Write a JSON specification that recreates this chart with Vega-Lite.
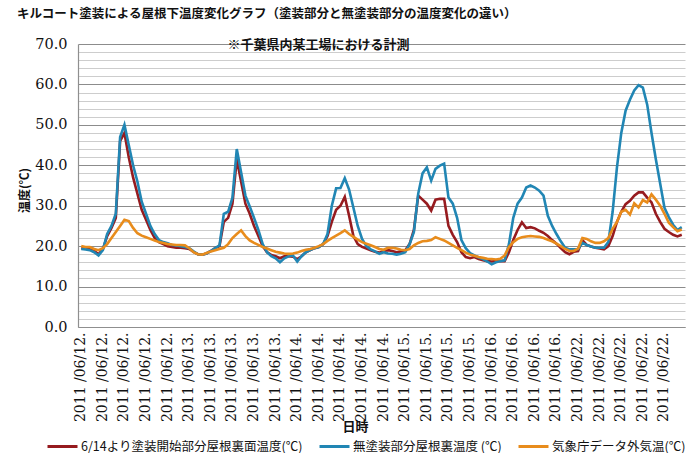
{
"$schema": "https://vega.github.io/schema/vega-lite/v6.json",
"width": 607, "height": 283,
"autosize": {"type": "none"},
"padding": {"left": 78, "top": 44, "right": 4, "bottom": 126},
"background": "white",
"title": {"text": "キルコート塗装による屋根下温度変化グラフ（塗装部分と無塗装部分の温度変化の違い）", "anchor": "start", "frame": "group", "dx": -61, "offset": 16, "font": "Noto Sans CJK JP", "fontSize": 12.5, "fontWeight": "bold", "color": "#111111"},
"data": {"values": [
{"t":"2011/06/12 01:00","r":19.5,"b":19.3,"o":20.0},
{"t":"2011/06/12 02:00","r":19.4,"b":19.2,"o":19.8},
{"t":"2011/06/12 03:00","r":19.2,"b":19.0,"o":19.8},
{"t":"2011/06/12 04:00","r":18.8,"b":18.5,"o":19.3},
{"t":"2011/06/12 05:00","r":18.0,"b":17.7,"o":19.0},
{"t":"2011/06/12 06:00","r":19.2,"b":19.0,"o":19.5},
{"t":"2011/06/12 07:00","r":22.5,"b":23.0,"o":20.5},
{"t":"2011/06/12 08:00","r":24.5,"b":25.0,"o":22.0},
{"t":"2011/06/12 09:00","r":27.0,"b":28.0,"o":23.5},
{"t":"2011/06/12 10:00","r":46.0,"b":47.0,"o":25.0},
{"t":"2011/06/12 11:00","r":48.0,"b":50.0,"o":26.5},
{"t":"2011/06/12 12:00","r":42.0,"b":45.0,"o":26.2},
{"t":"2011/06/12 13:00","r":37.0,"b":40.0,"o":24.5},
{"t":"2011/06/12 14:00","r":33.0,"b":36.0,"o":23.2},
{"t":"2011/06/12 15:00","r":29.0,"b":31.0,"o":22.6},
{"t":"2011/06/12 16:00","r":26.5,"b":28.0,"o":22.2},
{"t":"2011/06/12 17:00","r":24.0,"b":25.0,"o":21.8},
{"t":"2011/06/12 18:00","r":22.0,"b":23.0,"o":21.4},
{"t":"2011/06/12 19:00","r":21.0,"b":21.5,"o":21.0},
{"t":"2011/06/12 20:00","r":20.5,"b":21.0,"o":20.8},
{"t":"2011/06/12 21:00","r":20.0,"b":20.7,"o":20.5},
{"t":"2011/06/12 22:00","r":19.8,"b":20.3,"o":20.4},
{"t":"2011/06/12 23:00","r":19.6,"b":20.2,"o":20.3},
{"t":"2011/06/13 00:00","r":19.6,"b":20.0,"o":20.3},
{"t":"2011/06/13 01:00","r":19.5,"b":19.8,"o":20.2},
{"t":"2011/06/13 02:00","r":19.3,"b":19.5,"o":19.5},
{"t":"2011/06/13 03:00","r":18.6,"b":18.7,"o":18.5},
{"t":"2011/06/13 04:00","r":18.0,"b":18.0,"o":18.0},
{"t":"2011/06/13 05:00","r":17.9,"b":17.9,"o":17.9},
{"t":"2011/06/13 06:00","r":18.2,"b":18.2,"o":18.3},
{"t":"2011/06/13 07:00","r":18.8,"b":18.8,"o":18.7},
{"t":"2011/06/13 08:00","r":19.5,"b":19.5,"o":19.0},
{"t":"2011/06/13 09:00","r":20.0,"b":20.2,"o":19.3},
{"t":"2011/06/13 10:00","r":26.0,"b":28.0,"o":19.6},
{"t":"2011/06/13 11:00","r":27.0,"b":28.5,"o":20.5},
{"t":"2011/06/13 12:00","r":30.5,"b":32.0,"o":22.0},
{"t":"2011/06/13 13:00","r":41.5,"b":44.0,"o":23.0},
{"t":"2011/06/13 14:00","r":36.0,"b":38.3,"o":23.9},
{"t":"2011/06/13 15:00","r":30.5,"b":32.5,"o":22.5},
{"t":"2011/06/13 16:00","r":28.0,"b":29.8,"o":21.4},
{"t":"2011/06/13 17:00","r":25.0,"b":27.0,"o":20.8},
{"t":"2011/06/13 18:00","r":22.5,"b":24.0,"o":20.3},
{"t":"2011/06/13 19:00","r":20.0,"b":20.5,"o":19.8},
{"t":"2011/06/13 20:00","r":18.5,"b":18.5,"o":19.4},
{"t":"2011/06/13 21:00","r":17.8,"b":17.5,"o":19.0},
{"t":"2011/06/13 22:00","r":17.5,"b":17.0,"o":18.6},
{"t":"2011/06/13 23:00","r":17.0,"b":16.0,"o":18.4},
{"t":"2011/06/14 00:00","r":17.5,"b":17.0,"o":18.2},
{"t":"2011/06/14 01:00","r":17.5,"b":17.5,"o":18.1},
{"t":"2011/06/14 02:00","r":17.4,"b":17.7,"o":18.2},
{"t":"2011/06/14 03:00","r":16.8,"b":16.2,"o":18.4},
{"t":"2011/06/14 04:00","r":17.5,"b":17.5,"o":18.8},
{"t":"2011/06/14 05:00","r":18.5,"b":18.5,"o":19.1},
{"t":"2011/06/14 06:00","r":19.0,"b":19.0,"o":19.3},
{"t":"2011/06/14 07:00","r":19.5,"b":19.5,"o":19.6},
{"t":"2011/06/14 08:00","r":19.8,"b":19.8,"o":20.0},
{"t":"2011/06/14 09:00","r":20.5,"b":20.5,"o":20.5},
{"t":"2011/06/14 10:00","r":22.5,"b":23.0,"o":21.3},
{"t":"2011/06/14 11:00","r":26.0,"b":30.0,"o":22.0},
{"t":"2011/06/14 12:00","r":29.0,"b":34.3,"o":22.6},
{"t":"2011/06/14 13:00","r":30.0,"b":34.4,"o":23.2},
{"t":"2011/06/14 14:00","r":32.2,"b":36.8,"o":23.9},
{"t":"2011/06/14 15:00","r":27.5,"b":34.0,"o":23.0},
{"t":"2011/06/14 16:00","r":22.5,"b":29.5,"o":22.3},
{"t":"2011/06/14 17:00","r":20.5,"b":25.0,"o":21.6},
{"t":"2011/06/14 18:00","r":19.8,"b":21.8,"o":21.0},
{"t":"2011/06/14 19:00","r":19.4,"b":20.0,"o":20.6},
{"t":"2011/06/14 20:00","r":19.0,"b":19.2,"o":20.2},
{"t":"2011/06/14 21:00","r":18.6,"b":18.7,"o":19.8},
{"t":"2011/06/14 22:00","r":18.4,"b":18.1,"o":19.3},
{"t":"2011/06/14 23:00","r":18.8,"b":18.5,"o":19.1},
{"t":"2011/06/15 00:00","r":19.0,"b":18.2,"o":19.6},
{"t":"2011/06/15 01:00","r":18.8,"b":18.1,"o":19.6},
{"t":"2011/06/15 02:00","r":18.5,"b":17.9,"o":19.4},
{"t":"2011/06/15 03:00","r":18.7,"b":18.1,"o":19.1},
{"t":"2011/06/15 04:00","r":19.0,"b":18.5,"o":19.0},
{"t":"2011/06/15 05:00","r":20.5,"b":20.5,"o":19.3},
{"t":"2011/06/15 06:00","r":24.0,"b":23.5,"o":20.2},
{"t":"2011/06/15 07:00","r":32.5,"b":33.0,"o":20.8},
{"t":"2011/06/15 08:00","r":31.5,"b":38.0,"o":21.2},
{"t":"2011/06/15 09:00","r":30.5,"b":39.5,"o":21.3},
{"t":"2011/06/15 10:00","r":28.8,"b":36.2,"o":21.5},
{"t":"2011/06/15 11:00","r":31.5,"b":39.1,"o":22.2},
{"t":"2011/06/15 12:00","r":31.7,"b":39.9,"o":21.8},
{"t":"2011/06/15 13:00","r":31.7,"b":40.4,"o":21.4},
{"t":"2011/06/15 14:00","r":25.0,"b":32.0,"o":20.8},
{"t":"2011/06/15 15:00","r":22.8,"b":30.5,"o":20.2},
{"t":"2011/06/15 16:00","r":21.0,"b":27.0,"o":19.6},
{"t":"2011/06/15 17:00","r":18.5,"b":21.5,"o":19.0},
{"t":"2011/06/15 18:00","r":17.3,"b":19.5,"o":18.4},
{"t":"2011/06/15 19:00","r":17.0,"b":18.3,"o":17.9},
{"t":"2011/06/15 20:00","r":17.3,"b":17.7,"o":17.6},
{"t":"2011/06/15 21:00","r":16.8,"b":17.2,"o":17.3},
{"t":"2011/06/15 22:00","r":16.5,"b":16.8,"o":17.1},
{"t":"2011/06/15 23:00","r":16.3,"b":16.2,"o":16.9},
{"t":"2011/06/16 00:00","r":16.2,"b":15.5,"o":16.8},
{"t":"2011/06/16 01:00","r":16.3,"b":16.0,"o":16.7},
{"t":"2011/06/16 02:00","r":16.3,"b":16.3,"o":16.9},
{"t":"2011/06/16 03:00","r":16.3,"b":16.5,"o":17.7},
{"t":"2011/06/16 04:00","r":18.5,"b":20.5,"o":19.8},
{"t":"2011/06/16 05:00","r":21.5,"b":27.0,"o":21.0},
{"t":"2011/06/16 06:00","r":24.0,"b":30.5,"o":21.8},
{"t":"2011/06/16 07:00","r":25.9,"b":32.0,"o":22.2},
{"t":"2011/06/16 08:00","r":24.5,"b":34.5,"o":22.4},
{"t":"2011/06/16 09:00","r":24.7,"b":35.0,"o":22.5},
{"t":"2011/06/16 10:00","r":24.4,"b":34.5,"o":22.4},
{"t":"2011/06/16 11:00","r":23.8,"b":33.7,"o":22.3},
{"t":"2011/06/16 12:00","r":23.3,"b":32.5,"o":22.0},
{"t":"2011/06/16 13:00","r":22.5,"b":27.5,"o":21.6},
{"t":"2011/06/16 14:00","r":21.5,"b":25.0,"o":21.2},
{"t":"2011/06/16 15:00","r":20.6,"b":23.0,"o":20.6},
{"t":"2011/06/16 16:00","r":19.5,"b":21.2,"o":20.0},
{"t":"2011/06/16 17:00","r":18.5,"b":19.6,"o":19.3},
{"t":"2011/06/16 18:00","r":18.0,"b":19.2,"o":18.8},
{"t":"2011/06/22 00:00","r":18.6,"b":19.2,"o":18.8},
{"t":"2011/06/22 01:00","r":18.8,"b":19.3,"o":19.4},
{"t":"2011/06/22 02:00","r":21.5,"b":20.8,"o":22.0},
{"t":"2011/06/22 03:00","r":20.3,"b":20.3,"o":21.8},
{"t":"2011/06/22 04:00","r":19.9,"b":19.9,"o":21.2},
{"t":"2011/06/22 05:00","r":19.6,"b":19.6,"o":20.8},
{"t":"2011/06/22 06:00","r":19.4,"b":19.6,"o":20.8},
{"t":"2011/06/22 07:00","r":19.2,"b":19.6,"o":21.2},
{"t":"2011/06/22 08:00","r":20.0,"b":21.0,"o":22.0},
{"t":"2011/06/22 09:00","r":22.5,"b":28.5,"o":24.3},
{"t":"2011/06/22 10:00","r":26.0,"b":39.5,"o":26.0},
{"t":"2011/06/22 11:00","r":28.5,"b":48.0,"o":28.5},
{"t":"2011/06/22 12:00","r":30.4,"b":53.5,"o":29.0},
{"t":"2011/06/22 13:00","r":31.2,"b":56.2,"o":27.8},
{"t":"2011/06/22 14:00","r":32.5,"b":58.5,"o":30.6},
{"t":"2011/06/22 15:00","r":33.3,"b":59.8,"o":29.6},
{"t":"2011/06/22 16:00","r":33.3,"b":59.2,"o":31.4},
{"t":"2011/06/22 17:00","r":32.0,"b":55.0,"o":30.8},
{"t":"2011/06/22 18:00","r":30.8,"b":48.0,"o":32.8},
{"t":"2011/06/22 19:00","r":28.0,"b":41.5,"o":31.5},
{"t":"2011/06/22 20:00","r":26.0,"b":35.5,"o":30.0},
{"t":"2011/06/22 21:00","r":24.3,"b":29.5,"o":28.0},
{"t":"2011/06/22 22:00","r":23.5,"b":27.2,"o":25.8},
{"t":"2011/06/22 23:00","r":22.8,"b":25.3,"o":24.7},
{"t":"2011/06/23 00:00","r":22.4,"b":24.0,"o":23.7},
{"t":"2011/06/23 01:00","r":22.8,"b":24.7,"o":24.1}
]},
"transform": [{"fold": ["r", "b", "o"], "as": ["s", "v"]}],
"layer": [
{"mark": {"type": "line", "strokeWidth": 2.6},
 "encoding": {
  "x": {"field": "t", "type": "ordinal", "scale": {"padding": 0.5},
   "axis": {"orient": "bottom",
    "values": ["2011/06/12 01:00","2011/06/12 06:00","2011/06/12 11:00","2011/06/12 16:00","2011/06/12 21:00","2011/06/13 02:00","2011/06/13 07:00","2011/06/13 12:00","2011/06/13 17:00","2011/06/13 22:00","2011/06/14 03:00","2011/06/14 08:00","2011/06/14 13:00","2011/06/14 18:00","2011/06/14 23:00","2011/06/15 04:00","2011/06/15 09:00","2011/06/15 14:00","2011/06/15 19:00","2011/06/16 00:00","2011/06/16 05:00","2011/06/16 10:00","2011/06/16 15:00","2011/06/22 01:00","2011/06/22 06:00","2011/06/22 11:00","2011/06/22 16:00","2011/06/22 21:00"],
    "labelExpr": "slice(datum.label, 0, 4) + ' ' + slice(datum.label, 4, 10) + '.'",
    "labelAngle": -90, "labelFont": "DejaVu Serif", "labelFontSize": 14, "labelColor": "#111111",
    "labelPadding": 5, "labelOverlap": false, "ticks": false, "grid": false,
    "domainColor": "#8f8f8f", "domainWidth": 1.2,
    "title": "日時", "titleFont": "Noto Sans CJK JP", "titleFontSize": 13, "titleFontWeight": "bold", "titleColor": "#111111",
    "titleX": 277, "titleY": 99, "titleBaseline": "middle", "titleAlign": "center"}},
  "y": {"field": "v", "type": "quantitative", "scale": {"domain": [0, 70], "nice": false},
   "axis": {"values": [0,2,4,6,8,10,12,14,16,18,20,22,24,26,28,30,32,34,36,38,40,42,44,46,48,50,52,54,56,58,60,62,64,66,68,70],
    "labelExpr": "datum.value % 10 === 0 ? format(datum.value, '.1f') : ''",
    "grid": true,
    "gridColor": {"condition": {"test": "datum.value % 10 === 0", "value": "#8c8c8c"}, "value": "#cdcdcd"},
    "gridWidth": 1, "ticks": false, "domainColor": "#8f8f8f", "domainWidth": 1.2,
    "labelFont": "DejaVu Serif", "labelFontSize": 14.5, "labelColor": "#111111", "labelPadding": 11,
    "title": "温度(℃)", "titleFont": "Noto Sans CJK JP", "titleFontSize": 12, "titleFontWeight": "bold", "titleColor": "#111111",
    "titleAngle": 270, "titleX": -54, "titleY": 146, "titleBaseline": "middle", "titleAlign": "center"}},
  "color": {"field": "s", "type": "nominal",
   "scale": {"domain": ["r", "b", "o"], "range": ["#961b1f", "#2186b4", "#e88c1c"]},
   "legend": {"orient": "none", "legendX": -32, "legendY": 386, "direction": "horizontal", "title": null,
    "symbolType": "stroke", "symbolSize": 900, "symbolStrokeWidth": 3, "symbolOpacity": 1,
    "labelFont": "Noto Sans CJK JP", "labelFontSize": 12.5, "labelColor": "#111111", "labelOffset": 2, "labelLimit": 400,
    "columnPadding": 10, "gridAlign": "none",
    "labelExpr": "datum.label === 'r' ? '6/14より塗装開始部分屋根裏面温度(℃)' : datum.label === 'b' ? '無塗装部分屋根裏温度 (℃)' : '気象庁データ外気温(℃)'"}}
 }},
{"mark": {"type": "rule", "strokeOpacity": 0},
 "encoding": {
  "x": {"field": "t", "type": "ordinal",
   "axis": {"orient": "top", "labels": false, "ticks": false, "domain": false, "grid": false,
    "title": "※千葉県内某工場における計測", "titleFont": "Noto Sans CJK JP", "titleFontSize": 13, "titleFontWeight": "bold", "titleColor": "#111111",
    "titleX": 240, "titleY": 0, "titleBaseline": "middle", "titleAlign": "center"}}
 }}
],
"resolve": {"axis": {"x": "independent"}},
"config": {"view": {"stroke": null}, "font": "Noto Sans CJK JP"}
}
